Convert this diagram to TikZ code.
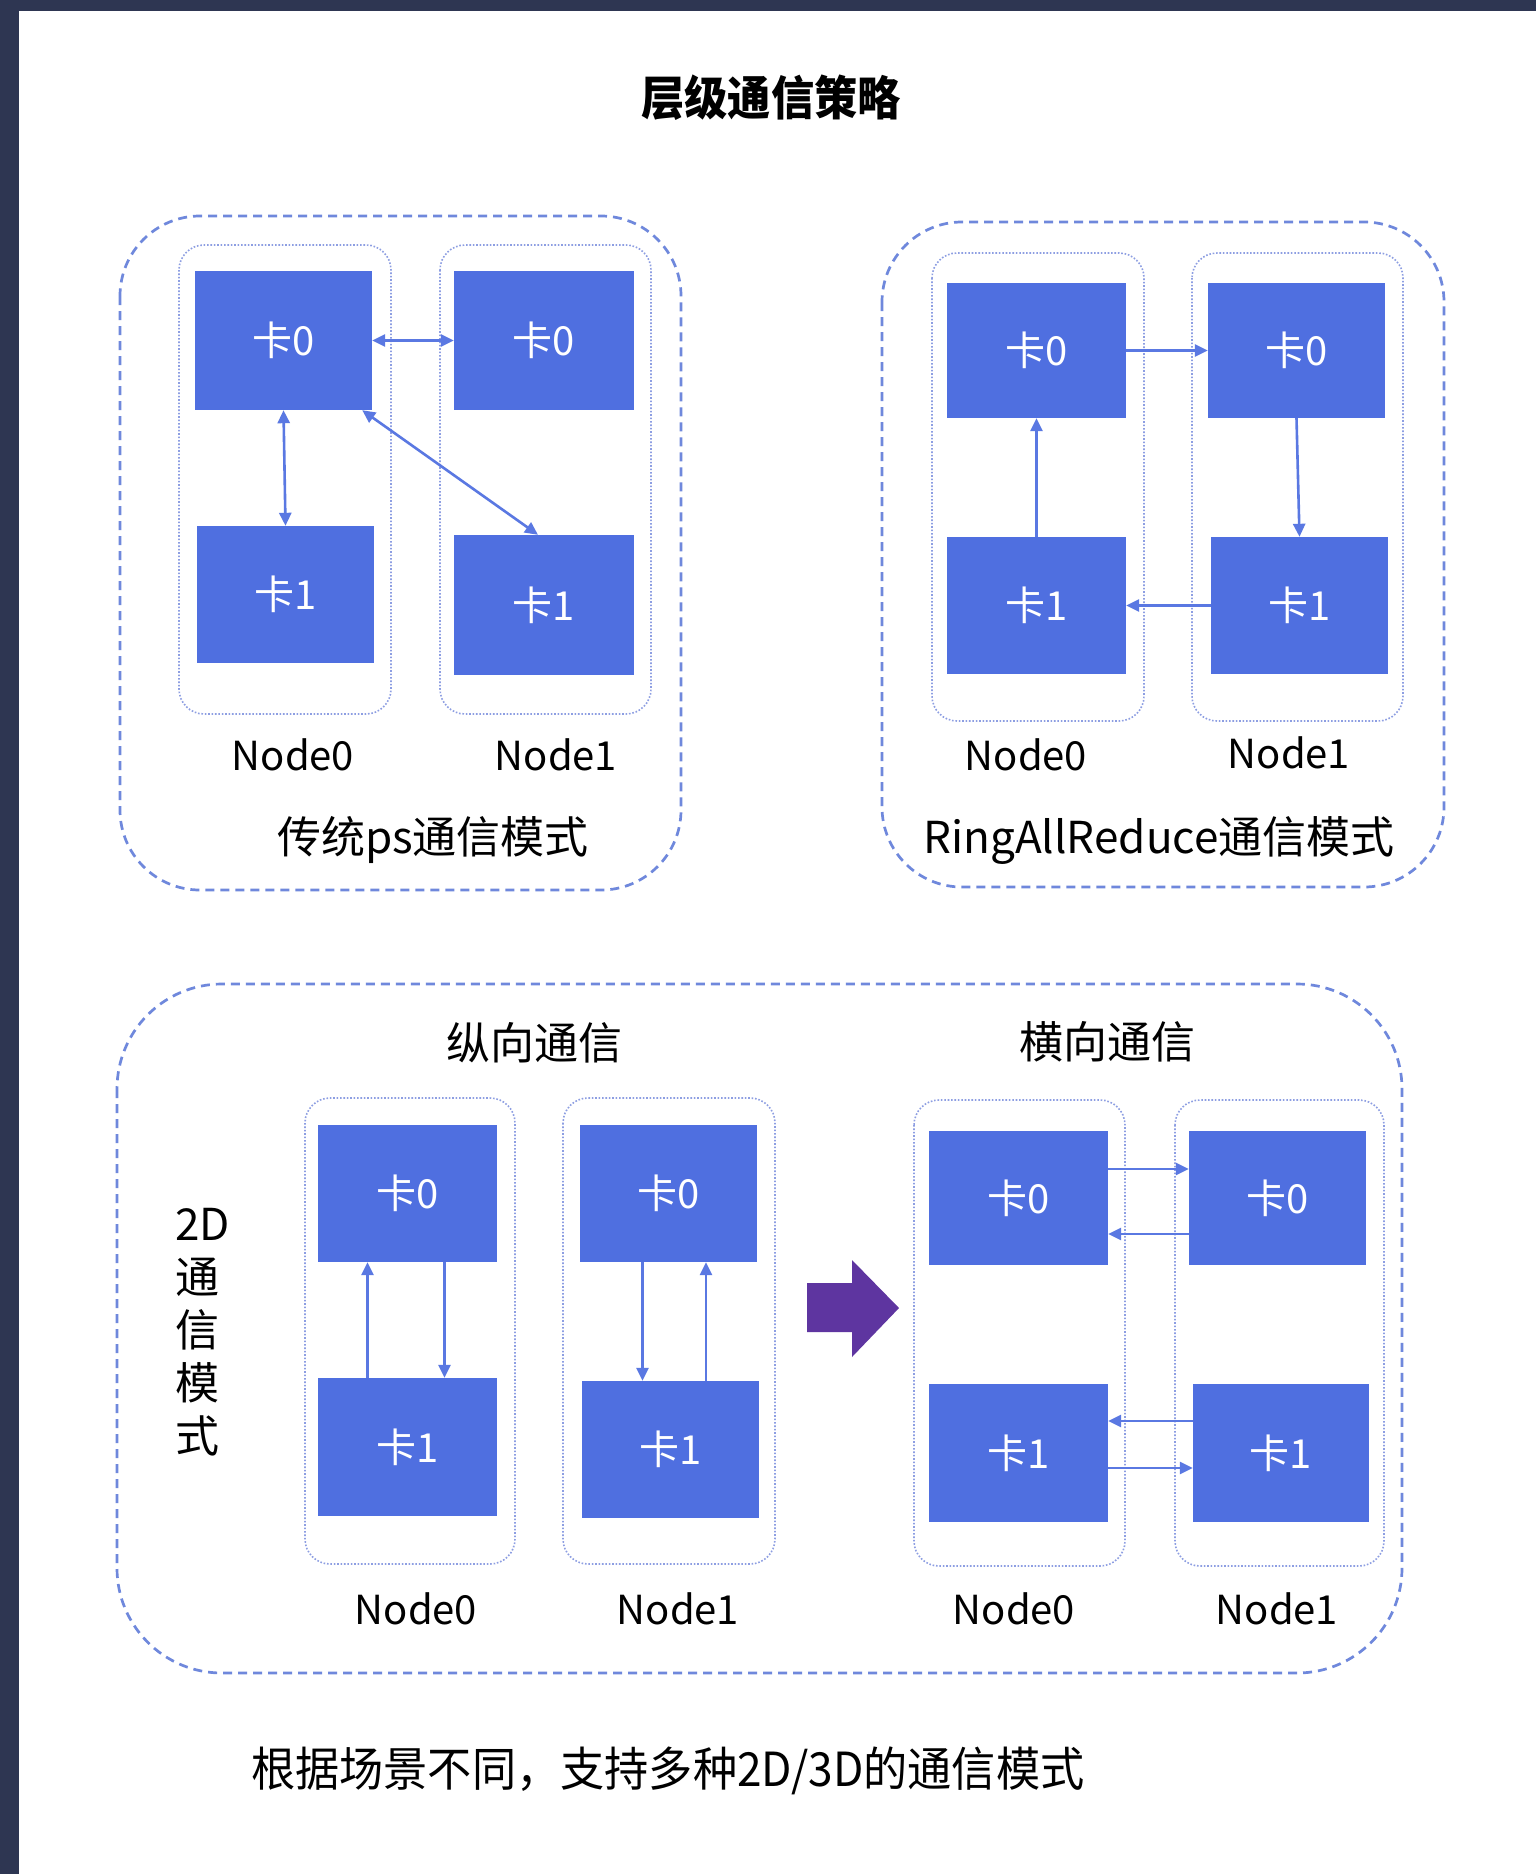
\documentclass[tikz,border=0pt]{standalone}
\usepackage{fontspec}
\usepackage{graphicx}
\setmainfont{Noto Sans CJK SC}
\usetikzlibrary{arrows.meta}
\definecolor{framec}{HTML}{2E3652}
\definecolor{cardc}{HTML}{4F6FE0}
\definecolor{dashc}{HTML}{6F88DC}
\definecolor{dotc}{HTML}{8D9EE2}
\definecolor{arrc}{HTML}{5A78E2}
\definecolor{purplec}{HTML}{5E35A0}
\begin{document}
\begin{tikzpicture}[x=1pt,y=-1pt,
  card/.style={fill=cardc, text=white, inner sep=0pt, font=\fontsize{40}{46}\selectfont},
  outerbox/.style={draw=dashc, line width=2.7pt, dash pattern=on 9pt off 6pt, rounded corners=80pt},
  innerbox/.style={draw=dotc, line width=1.6pt, dash pattern=on 1.6pt off 1.8pt, rounded corners=25pt},
  arr/.style={draw=arrc, line width=2.6pt, -{Triangle[length=13pt,width=12pt]}},
  biarr/.style={draw=arrc, line width=2.6pt, {Triangle[length=13pt,width=12pt]}-{Triangle[length=13pt,width=12pt]}},
  lbl/.style={inner sep=0pt, font=\fontsize{40}{48}\selectfont},
  captext/.style={inner sep=0pt, font=\fontsize{44}{52}\selectfont}]
\useasboundingbox (0,0) rectangle (1536,1874);
\fill[framec] (0,0) rectangle (1536,1874);
\fill[white] (19,11) rectangle (1536,1874);

% title
\node[inner sep=0pt, font=\fontsize{47}{52}\selectfont\bfseries] (title) at (771,98) {\scalebox{0.92}[1]{层级通信策略}};

% ---------- panel 1 ----------
\draw[outerbox] (120,216) rectangle (681,890);
\draw[innerbox] (179,245) rectangle (391,714);
\draw[innerbox] (440,245) rectangle (651,714);
\node[card, minimum width=177pt, minimum height=139pt] (p1a0) at (283.5,340.5) {卡0};
\node[card, minimum width=180pt, minimum height=139pt] (p1b0) at (544,340.5) {卡0};
\node[card, minimum width=177pt, minimum height=137pt] (p1a1) at (285.5,594.5) {卡1};
\node[card, minimum width=180pt, minimum height=140pt] (p1b1) at (544,605) {卡1};
\draw[biarr] (p1a0.east) -- (p1b0.west);
\draw[biarr] (p1a0.south) -- (p1a1.north);
\draw[biarr] ([xshift=-10pt]p1a0.south east) -- ([xshift=-6pt]p1b1.north);
\node[lbl] (p1n0) at (293,755) {Node0};
\node[lbl] (p1n1) at (556,755) {Node1};
\node[captext] (p1cap) at (433,840) {传统ps通信模式};

% ---------- panel 2 ----------
\draw[outerbox] (882,222) rectangle (1444,887);
\draw[innerbox] (932,253) rectangle (1144,721);
\draw[innerbox] (1192,253) rectangle (1403,721);
\node[card, minimum width=179pt, minimum height=135pt] (p2a0) at (1036.5,350.5) {卡0};
\node[card, minimum width=177pt, minimum height=135pt] (p2b0) at (1296.5,350.5) {卡0};
\node[card, minimum width=179pt, minimum height=137pt] (p2a1) at (1036.5,605.5) {卡1};
\node[card, minimum width=177pt, minimum height=137pt] (p2b1) at (1299.5,605.5) {卡1};
\draw[arr] (p2a0.east) -- (p2b0.west);
\draw[arr] (p2b0.south) -- (p2b1.north);
\draw[arr] (p2b1.west) -- (p2a1.east);
\draw[arr] (p2a1.north) -- (p2a0.south);
\node[lbl] (p2n0) at (1026,755) {Node0};
\node[lbl] (p2n1) at (1289,753) {Node1};
\node[captext] (p2cap) at (1159,841) {RingAllReduce通信模式};

% ---------- panel 3 ----------
\draw[outerbox, rounded corners=105pt] (117,984) rectangle (1402,1673);
\node[captext] (vhead) at (534,1043) {纵向通信};
\node[captext] (hhead) at (1107,1042) {横向通信};
\node[inner sep=0pt, anchor=north west, align=left, font=\fontsize{44}{53}\selectfont] (twod) at (175,1208) {2D\\通\\信\\模\\式};

\draw[innerbox] (305,1098) rectangle (515,1564);
\draw[innerbox] (563,1098) rectangle (775,1564);
\node[card, minimum width=179pt, minimum height=137pt] (p3a0) at (407.5,1193.5) {卡0};
\node[card, minimum width=177pt, minimum height=137pt] (p3b0) at (668.5,1193.5) {卡0};
\node[card, minimum width=179pt, minimum height=138pt] (p3a1) at (407.5,1447) {卡1};
\node[card, minimum width=177pt, minimum height=137pt] (p3b1) at (670.5,1449.5) {卡1};
\draw[arr] ([xshift=-40pt]p3a1.north) -- ([xshift=-40pt]p3a0.south);
\draw[arr] ([xshift=37pt]p3a0.south) -- ([xshift=37pt]p3a1.north);
\draw[arr] ([xshift=-26pt]p3b0.south) -- ([xshift=-28pt]p3b1.north);
\draw[arr] ([xshift=35.5pt]p3b1.north) -- ([xshift=37.5pt]p3b0.south);
\node[lbl] (p3n0) at (416,1609) {Node0};
\node[lbl] (p3n1) at (678,1609) {Node1};

\fill[purplec] (807,1283) -- (852,1283) -- (852,1260) -- (899,1308) -- (852,1357) -- (852,1332) -- (807,1332) -- cycle;

\draw[innerbox] (914,1100) rectangle (1125,1566);
\draw[innerbox] (1175,1100) rectangle (1384,1566);
\node[card, minimum width=179pt, minimum height=134pt] (p4a0) at (1018.5,1198) {卡0};
\node[card, minimum width=177pt, minimum height=134pt] (p4b0) at (1277.5,1198) {卡0};
\node[card, minimum width=179pt, minimum height=138pt] (p4a1) at (1018.5,1453) {卡1};
\node[card, minimum width=176pt, minimum height=138pt] (p4b1) at (1281,1453) {卡1};
\draw[arr] ([yshift=29pt]p4a0.east) -- ([yshift=29pt]p4b0.west);
\draw[arr] ([yshift=-36pt]p4b0.west) -- ([yshift=-36pt]p4a0.east);
\draw[arr] ([yshift=32pt]p4b1.west) -- ([yshift=32pt]p4a1.east);
\draw[arr] ([yshift=-15pt]p4a1.east) -- ([yshift=-15pt]p4b1.west);
\node[lbl] (p4n0) at (1014,1609) {Node0};
\node[lbl] (p4n1) at (1277,1609) {Node1};

% bottom text
\node[inner sep=0pt, anchor=west, font=\fontsize{47}{52}\selectfont] (foot) at (251,1771) {\scalebox{0.94}[1]{根据场景不同，支持多种2D/3D的通信模式}};
\end{tikzpicture}
\end{document}
